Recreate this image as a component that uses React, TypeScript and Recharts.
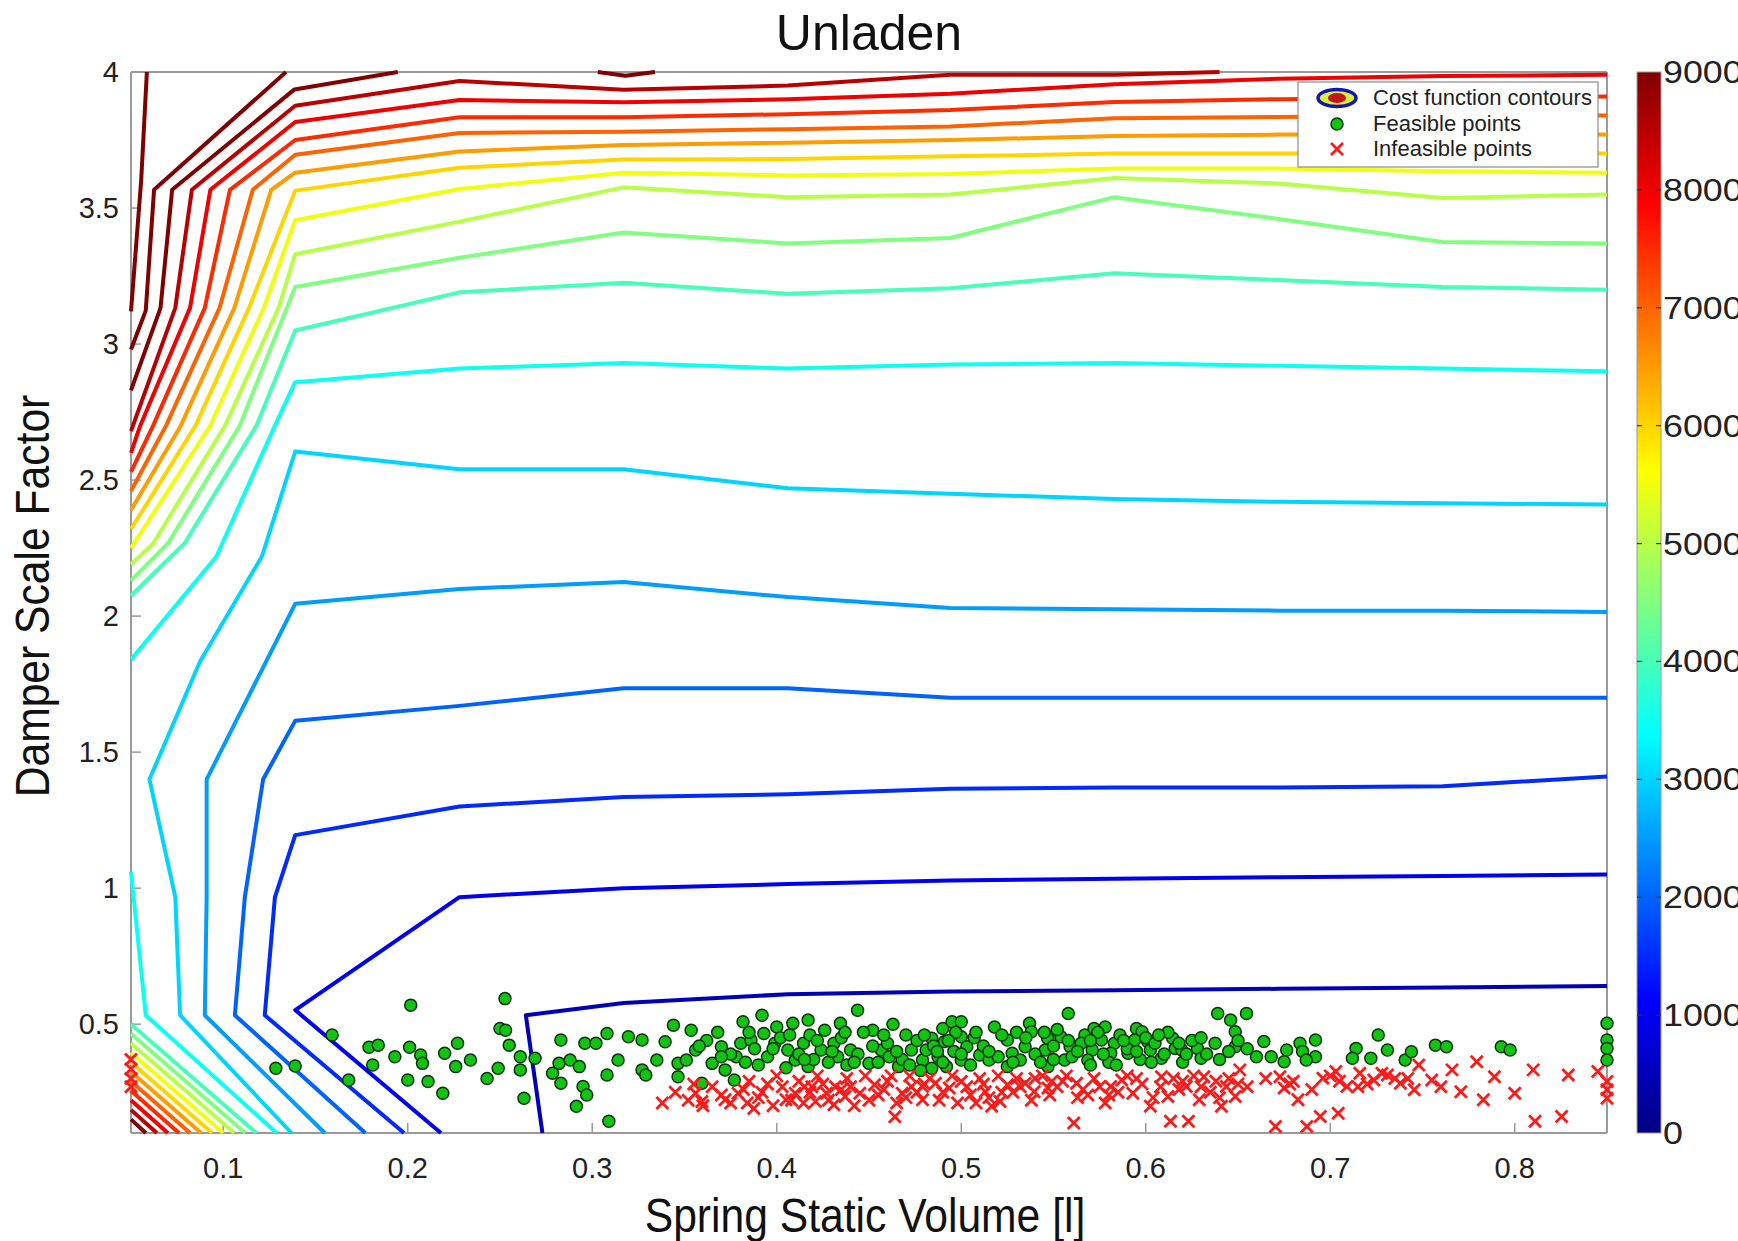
import React from "react";
import { ComposedChart, Scatter, XAxis, YAxis } from "recharts";

type Pt = [number, number];

const FONT = "'Liberation Sans', Arial, Helvetica, sans-serif";
const AXIS = "#9a9a9a";
const TXT = "#222";

const xTicks = [0.1, 0.2, 0.3, 0.4, 0.5, 0.6, 0.7, 0.8];
const yTicks = [0.5, 1, 1.5, 2, 2.5, 3, 3.5, 4];
const barTicks = [0, 1000, 2000, 3000, 4000, 5000, 6000, 7000, 8000, 9000];
const barMax = 9000;

// contour lines (x = spring volume, y = damper factor)
const c500: Pt[] = [[0.273, 0.1], [0.264, 0.533], [0.317, 0.578], [0.406, 0.61], [0.494, 0.62], [0.583, 0.625], [0.672, 0.63], [0.761, 0.635], [0.85, 0.64]];
const c1000: Pt[] = [[0.218, 0.1], [0.139, 0.552], [0.228, 0.967], [0.317, 1.0], [0.406, 1.015], [0.494, 1.028], [0.583, 1.035], [0.672, 1.04], [0.761, 1.045], [0.85, 1.05]];
const c1500: Pt[] = [[0.198, 0.1], [0.1225, 0.533], [0.128, 0.967], [0.139, 1.195], [0.228, 1.3], [0.317, 1.335], [0.406, 1.345], [0.494, 1.365], [0.583, 1.37], [0.672, 1.37], [0.761, 1.375], [0.85, 1.41]];
const c2000: Pt[] = [[0.177, 0.1], [0.1063, 0.533], [0.1117, 0.967], [0.1216, 1.4], [0.139, 1.615], [0.228, 1.67], [0.317, 1.735], [0.406, 1.735], [0.494, 1.7], [0.583, 1.7], [0.672, 1.7], [0.761, 1.7], [0.85, 1.7]];
const c2500: Pt[] = [[0.155, 0.1], [0.09, 0.533], [0.091, 0.967], [0.091, 1.4], [0.139, 2.045], [0.228, 2.1], [0.317, 2.125], [0.406, 2.07], [0.494, 2.03], [0.583, 2.025], [0.672, 2.02], [0.761, 2.02], [0.85, 2.015]];
const c3000: Pt[] = [[0.137, 0.1], [0.0766, 0.533], [0.074, 0.967], [0.06, 1.4], [0.0874, 1.833], [0.121, 2.22], [0.139, 2.605], [0.228, 2.54], [0.317, 2.54], [0.406, 2.47], [0.494, 2.45], [0.583, 2.43], [0.672, 2.42], [0.761, 2.415], [0.85, 2.41]];
const c3500: Pt[] = [[0.05, 1.84], [0.0964, 2.22], [0.128, 2.7], [0.139, 2.86], [0.228, 2.91], [0.317, 2.93], [0.406, 2.91], [0.494, 2.925], [0.583, 2.93], [0.672, 2.92], [0.761, 2.91], [0.85, 2.9]];
const c3500Corner: Pt[] = [[0.05, 1.06], [0.058, 0.533], [0.129, 0.1]];
const c4000: Pt[] = [[0.05, 2.075], [0.079, 2.267], [0.118, 2.7], [0.139, 3.05], [0.228, 3.19], [0.317, 3.225], [0.406, 3.185], [0.494, 3.205], [0.583, 3.26], [0.672, 3.235], [0.761, 3.21], [0.85, 3.2]];
const c4500: Pt[] = [[0.05, 2.13], [0.07, 2.267], [0.109, 2.7], [0.139, 3.21], [0.228, 3.317], [0.317, 3.41], [0.406, 3.37], [0.494, 3.39], [0.583, 3.54], [0.672, 3.46], [0.761, 3.375], [0.85, 3.37]];
const c5000: Pt[] = [[0.05, 2.19], [0.062, 2.267], [0.101, 2.7], [0.13, 3.133], [0.139, 3.33], [0.228, 3.45], [0.317, 3.576], [0.406, 3.54], [0.494, 3.55], [0.583, 3.61], [0.672, 3.59], [0.761, 3.537], [0.85, 3.55]];
const c5500: Pt[] = [[0.05, 2.25], [0.093, 2.7], [0.122, 3.133], [0.139, 3.455], [0.228, 3.57], [0.317, 3.63], [0.406, 3.62], [0.494, 3.625], [0.583, 3.645], [0.672, 3.645], [0.761, 3.635], [0.85, 3.63]];
const c6000: Pt[] = [[0.05, 2.32], [0.085, 2.7], [0.114, 3.133], [0.139, 3.564], [0.228, 3.648], [0.317, 3.678], [0.406, 3.68], [0.494, 3.69], [0.583, 3.7], [0.672, 3.7], [0.761, 3.7], [0.85, 3.7]];
const c6500: Pt[] = [[0.05, 2.39], [0.077, 2.7], [0.106, 3.133], [0.126, 3.567], [0.139, 3.63], [0.228, 3.708], [0.317, 3.732], [0.406, 3.74], [0.494, 3.75], [0.583, 3.765], [0.672, 3.77], [0.761, 3.77], [0.85, 3.77]];
const c7000: Pt[] = [[0.05, 2.46], [0.069, 2.7], [0.098, 3.133], [0.116, 3.567], [0.139, 3.696], [0.228, 3.776], [0.317, 3.78], [0.406, 3.79], [0.494, 3.8], [0.583, 3.83], [0.672, 3.835], [0.761, 3.84], [0.85, 3.84]];
const c7500: Pt[] = [[0.05, 2.53], [0.062, 2.7], [0.09, 3.133], [0.1036, 3.567], [0.139, 3.75], [0.228, 3.834], [0.317, 3.834], [0.406, 3.845], [0.494, 3.86], [0.583, 3.89], [0.672, 3.9], [0.761, 3.905], [0.85, 3.91]];
const c8000: Pt[] = [[0.05, 2.6], [0.055, 2.7], [0.082, 3.133], [0.093, 3.567], [0.139, 3.816], [0.228, 3.897], [0.317, 3.889], [0.406, 3.9], [0.494, 3.92], [0.583, 3.955], [0.672, 3.975], [0.761, 3.985], [0.85, 3.99]];
const c8500: Pt[] = [[0.05, 2.68], [0.074, 3.133], [0.083, 3.567], [0.139, 3.876], [0.228, 3.967], [0.317, 3.935], [0.406, 3.95], [0.494, 3.99], [0.583, 3.99], [0.64, 4.0]];
const c9000: Pt[] = [[0.05, 2.83], [0.066, 3.133], [0.0723, 3.567], [0.1386, 3.936], [0.1946, 4.0]];
const c9000Top: Pt[] = [[0.303, 4.0], [0.318, 3.986], [0.334, 4.0]];
const c9500: Pt[] = [[0.05, 2.98], [0.058, 3.123], [0.0625, 3.567], [0.134, 4.0]];
const c10000: Pt[] = [[0.05, 3.12], [0.0555, 3.6], [0.0586, 4.0]];

// fan of lines in the lower-left corner
const fan4000: Pt[] = [[0.05, 0.5], [0.118, 0.1]];
const fan4500: Pt[] = [[0.05, 0.465], [0.112, 0.1]];
const fan5000: Pt[] = [[0.05, 0.43], [0.106, 0.1]];
const fan5500: Pt[] = [[0.05, 0.395], [0.1, 0.1]];
const fan6000: Pt[] = [[0.05, 0.36], [0.094, 0.1]];
const fan6500: Pt[] = [[0.05, 0.325], [0.088, 0.1]];
const fan7000: Pt[] = [[0.05, 0.29], [0.082, 0.1]];
const fan7500: Pt[] = [[0.05, 0.255], [0.076, 0.1]];
const fan8000: Pt[] = [[0.05, 0.22], [0.07, 0.1]];
const fan8500: Pt[] = [[0.05, 0.185], [0.064, 0.1]];
const fan9000: Pt[] = [[0.05, 0.15], [0.058, 0.1]];

const contourLines: [number, Pt[]][] = [
  [500, c500], [1000, c1000], [1500, c1500], [2000, c2000], [2500, c2500], [3000, c3000],
  [3500, c3500], [3500, c3500Corner], [4000, c4000], [4500, c4500], [5000, c5000], [5500, c5500],
  [6000, c6000], [6500, c6500], [7000, c7000], [7500, c7500], [8000, c8000], [8500, c8500],
  [9000, c9000], [9000, c9000Top], [9500, c9500], [10000, c10000],
  [4000, fan4000], [4500, fan4500], [5000, fan5000], [5500, fan5500], [6000, fan6000], [6500, fan6500],
  [7000, fan7000], [7500, fan7500], [8000, fan8000], [8500, fan8500], [9000, fan9000],
];

const feasible: Pt[] = [
  [0.1285, 0.338], [0.139, 0.346], [0.159, 0.46], [0.168, 0.295], [0.179, 0.415], [0.184, 0.423], [0.181, 0.35], [0.193, 0.38],
  [0.2016, 0.57], [0.201, 0.415], [0.207, 0.387], [0.208, 0.356], [0.2, 0.295], [0.211, 0.289], [0.219, 0.246], [0.22, 0.393],
  [0.227, 0.43], [0.226, 0.344], [0.234, 0.368], [0.243, 0.3], [0.249, 0.338], [0.2527, 0.594], [0.25, 0.484], [0.253, 0.478],
  [0.255, 0.423], [0.261, 0.38], [0.261, 0.332], [0.269, 0.375], [0.263, 0.228], [0.2785, 0.32], [0.283, 0.442], [0.282, 0.356],
  [0.283, 0.283], [0.288, 0.368], [0.293, 0.344], [0.295, 0.271], [0.297, 0.24], [0.2914, 0.198], [0.296, 0.43], [0.302, 0.43],
  [0.308, 0.466], [0.308, 0.3135], [0.309, 0.143], [0.314, 0.368], [0.3196, 0.454], [0.327, 0.442], [0.327, 0.332], [0.329, 0.3135],
  [0.335, 0.368], [0.3395, 0.4355], [0.344, 0.4965], [0.3465, 0.356], [0.3465, 0.307], [0.3536, 0.478], [0.356, 0.405], [0.351, 0.368],
  [0.3594, 0.283], [0.365, 0.356], [0.37, 0.417], [0.372, 0.332], [0.377, 0.295], [0.3817, 0.509], [0.3805, 0.43], [0.378, 0.38],
  [0.386, 0.442], [0.392, 0.533], [0.393, 0.466], [0.4, 0.49], [0.399, 0.43], [0.406, 0.405], [0.4087, 0.503], [0.41, 0.368],
  [0.417, 0.515], [0.4145, 0.43], [0.417, 0.344], [0.424, 0.405], [0.426, 0.478], [0.431, 0.43], [0.4345, 0.503], [0.433, 0.38],
  [0.44, 0.405], [0.4438, 0.551], [0.452, 0.478], [0.45, 0.356], [0.4567, 0.405], [0.461, 0.38], [0.466, 0.344], [0.473, 0.405],
  [0.479, 0.368], [0.49, 0.484], [0.495, 0.509], [0.5, 0.509], [0.484, 0.448], [0.491, 0.436], [0.5, 0.454], [0.481, 0.405],
  [0.4874, 0.38], [0.496, 0.4], [0.503, 0.417], [0.484, 0.338], [0.492, 0.344], [0.5, 0.368], [0.51, 0.387], [0.515, 0.368],
  [0.525, 0.442], [0.5276, 0.393], [0.537, 0.503], [0.538, 0.472], [0.5346, 0.417], [0.532, 0.368], [0.525, 0.344], [0.5468, 0.448],
  [0.5455, 0.405], [0.547, 0.344], [0.554, 0.454], [0.558, 0.539], [0.559, 0.417], [0.556, 0.368], [0.567, 0.46], [0.572, 0.484],
  [0.578, 0.49], [0.576, 0.442], [0.571, 0.405], [0.5686, 0.368], [0.583, 0.43], [0.581, 0.393], [0.5904, 0.393], [0.595, 0.484],
  [0.598, 0.472], [0.594, 0.442], [0.601, 0.436], [0.6025, 0.405], [0.6085, 0.375], [0.6146, 0.448], [0.616, 0.411], [0.6195, 0.405],
  [0.628, 0.411], [0.63, 0.375], [0.6376, 0.43], [0.639, 0.539], [0.646, 0.515], [0.6546, 0.539], [0.6485, 0.472], [0.6485, 0.417],
  [0.664, 0.436], [0.668, 0.38], [0.6764, 0.405], [0.675, 0.362], [0.6836, 0.43], [0.685, 0.4], [0.692, 0.442], [0.692, 0.38],
  [0.687, 0.368], [0.714, 0.411], [0.712, 0.375], [0.726, 0.46], [0.731, 0.405], [0.722, 0.375], [0.7406, 0.368], [0.744, 0.399],
  [0.757, 0.423], [0.763, 0.417], [0.7927, 0.417], [0.7975, 0.405], [0.85, 0.503], [0.85, 0.442], [0.85, 0.411], [0.85, 0.368],
  [0.362, 0.44], [0.368, 0.47], [0.375, 0.39], [0.383, 0.36], [0.388, 0.41], [0.395, 0.38], [0.402, 0.45], [0.405, 0.34],
  [0.412, 0.39], [0.418, 0.46], [0.42, 0.37], [0.428, 0.36], [0.435, 0.45], [0.438, 0.35], [0.444, 0.39], [0.447, 0.47],
  [0.455, 0.36], [0.46, 0.43], [0.463, 0.5], [0.468, 0.37], [0.47, 0.46], [0.476, 0.44], [0.478, 0.33], [0.485, 0.42],
  [0.49, 0.36], [0.497, 0.47], [0.505, 0.35], [0.507, 0.45], [0.512, 0.42], [0.518, 0.49], [0.52, 0.38], [0.53, 0.47],
  [0.54, 0.39], [0.543, 0.36], [0.55, 0.42], [0.552, 0.48], [0.56, 0.38], [0.565, 0.43], [0.57, 0.35], [0.574, 0.47],
  [0.58, 0.36], [0.586, 0.46], [0.59, 0.41], [0.597, 0.37], [0.6, 0.45], [0.605, 0.43], [0.61, 0.39], [0.612, 0.47],
  [0.62, 0.36], [0.625, 0.44], [0.633, 0.39], [0.64, 0.37], [0.655, 0.41], [0.66, 0.38],
  [0.358, 0.42], [0.37, 0.38], [0.385, 0.47], [0.39, 0.35], [0.398, 0.41], [0.407, 0.46], [0.415, 0.37], [0.422, 0.44],
  [0.43, 0.4], [0.437, 0.47], [0.442, 0.36], [0.452, 0.42], [0.458, 0.46], [0.465, 0.4], [0.472, 0.35], [0.48, 0.46],
  [0.487, 0.4], [0.493, 0.44], [0.5, 0.39], [0.508, 0.47], [0.515, 0.4], [0.522, 0.46], [0.528, 0.36], [0.535, 0.45],
  [0.545, 0.47], [0.55, 0.37], [0.558, 0.44], [0.563, 0.4], [0.57, 0.44], [0.577, 0.39], [0.584, 0.35], [0.588, 0.44],
  [0.595, 0.4], [0.603, 0.36], [0.607, 0.46], [0.618, 0.43], [0.622, 0.39], [0.63, 0.45], [0.645, 0.4], [0.65, 0.44],
];

const infeasible: Pt[] = [
  [0.05, 0.37], [0.05, 0.335], [0.05, 0.3], [0.05, 0.27],
  [0.338, 0.21], [0.356, 0.246], [0.3594, 0.216], [0.372, 0.222], [0.379, 0.246], [0.384, 0.21], [0.3876, 0.19], [0.403, 0.27],
  [0.405, 0.222], [0.41, 0.246], [0.4145, 0.21], [0.419, 0.27], [0.421, 0.216], [0.427, 0.246], [0.4317, 0.27], [0.431, 0.204],
  [0.437, 0.234], [0.445, 0.246], [0.453, 0.277], [0.464, 0.16], [0.468, 0.246], [0.473, 0.27], [0.479, 0.222],
  [0.479, 0.271], [0.486, 0.283], [0.4935, 0.265], [0.5, 0.289], [0.508, 0.21], [0.5165, 0.198], [0.521, 0.216], [0.513, 0.252],
  [0.525, 0.277], [0.5346, 0.283], [0.5395, 0.252], [0.547, 0.265], [0.549, 0.289], [0.561, 0.137], [0.5625, 0.283], [0.5686, 0.24],
  [0.578, 0.21], [0.581, 0.271], [0.587, 0.295], [0.593, 0.246], [0.6025, 0.198], [0.6085, 0.307], [0.612, 0.234], [0.6134, 0.143],
  [0.6231, 0.143], [0.622, 0.271], [0.629, 0.222], [0.6315, 0.307], [0.641, 0.198], [0.6437, 0.271], [0.651, 0.332], [0.6485, 0.234],
  [0.6703, 0.124], [0.6727, 0.307], [0.675, 0.265], [0.6825, 0.222], [0.6873, 0.124], [0.6946, 0.161], [0.7043, 0.173], [0.696, 0.301],
  [0.703, 0.326], [0.709, 0.271], [0.716, 0.32], [0.7236, 0.295], [0.731, 0.313], [0.738, 0.283], [0.7455, 0.259], [0.748, 0.35],
  [0.755, 0.295], [0.766, 0.332], [0.7708, 0.252], [0.7794, 0.362], [0.783, 0.222], [0.789, 0.307], [0.8, 0.246], [0.81, 0.332],
  [0.811, 0.143], [0.8254, 0.161], [0.829, 0.313], [0.845, 0.326], [0.85, 0.289], [0.85, 0.228], [0.85, 0.259],
  [0.345, 0.25], [0.352, 0.22], [0.365, 0.27], [0.37, 0.24], [0.382, 0.26], [0.39, 0.23], [0.395, 0.28], [0.398, 0.2],
  [0.412, 0.29], [0.418, 0.25], [0.425, 0.28], [0.428, 0.22], [0.44, 0.27], [0.442, 0.2], [0.448, 0.31], [0.455, 0.24],
  [0.46, 0.29], [0.465, 0.21], [0.472, 0.31], [0.476, 0.25], [0.483, 0.3], [0.488, 0.22], [0.495, 0.31], [0.503, 0.27],
  [0.51, 0.3], [0.515, 0.23], [0.52, 0.31], [0.528, 0.25], [0.53, 0.3], [0.538, 0.22], [0.544, 0.31], [0.552, 0.27],
  [0.557, 0.31], [0.566, 0.26], [0.572, 0.3], [0.585, 0.25], [0.59, 0.31], [0.598, 0.28], [0.604, 0.23], [0.615, 0.3],
  [0.618, 0.26], [0.626, 0.31], [0.635, 0.25], [0.638, 0.29], [0.645, 0.3], [0.655, 0.27], [0.68, 0.29], [0.69, 0.26],
  [0.7, 0.31], [0.72, 0.28], [0.735, 0.3], [0.76, 0.27],
  [0.355, 0.28], [0.36, 0.2], [0.375, 0.21], [0.385, 0.29], [0.392, 0.25], [0.4, 0.31], [0.408, 0.22], [0.415, 0.27],
  [0.422, 0.31], [0.435, 0.26], [0.438, 0.3], [0.45, 0.22], [0.458, 0.26], [0.462, 0.31], [0.47, 0.23], [0.48, 0.28],
  [0.49, 0.25], [0.498, 0.21], [0.505, 0.24], [0.512, 0.28], [0.522, 0.25], [0.532, 0.27], [0.54, 0.3], [0.548, 0.24],
  [0.555, 0.29], [0.563, 0.23], [0.575, 0.27], [0.58, 0.24], [0.595, 0.3], [0.608, 0.27], [0.62, 0.29], [0.63, 0.27],
  [0.64, 0.23], [0.65, 0.28], [0.665, 0.3], [0.678, 0.28], [0.705, 0.29], [0.715, 0.27], [0.728, 0.32], [0.742, 0.3],
];

// MATLAB "jet" colour for a contour level
function jet(level: number) {
  const t = Math.min(1, level / barMax);
  const c = (v: number) => Math.round(255 * Math.max(0, Math.min(1, v)));
  const r = c(Math.min(4 * t - 1.5, -4 * t + 4.5));
  const g = c(Math.min(4 * t - 0.5, -4 * t + 3.5));
  const b = c(Math.min(4 * t + 0.5, -4 * t + 2.5));
  return `rgb(${r},${g},${b})`;
}

const toXY = (pts: Pt[]) => pts.map(([x, y]) => ({ x, y }));

const NoDot = () => <g />;

function GreenDot(props: any) {
  const { cx, cy } = props;
  return <circle cx={cx} cy={cy} r={6} fill="#12c412" stroke="#0a330a" strokeWidth={1.5} />;
}

function RedCross(props: any) {
  const { cx, cy } = props;
  const s = 6;
  return (
    <path
      d={`M${cx - s},${cy - s}L${cx + s},${cy + s}M${cx - s},${cy + s}L${cx + s},${cy - s}`}
      stroke="#ff1a1a"
      strokeWidth={2.8}
      fill="none"
    />
  );
}

function BottomTick(props: any) {
  const { x, y, payload } = props;
  return (
    <text x={x} y={y + 45} textAnchor="middle" fontSize={29} fill={TXT} fontFamily={FONT}>
      {payload.value}
    </text>
  );
}

function LeftTick(props: any) {
  const { x, y, payload } = props;
  return (
    <text x={x} y={y + 10} textAnchor="end" fontSize={29} fill={TXT} fontFamily={FONT}>
      {payload.value}
    </text>
  );
}

// colour bar, legend and titles drawn on top of the chart
function Overlay() {
  const top = 72;
  const bottom = 1133;
  const barX = 1637;
  const barW = 24;
  const yOf = (v: number) => bottom - (v / barMax) * (bottom - top);
  return (
    <svg width={1738} height={1241} style={{ position: "absolute", left: 0, top: 0, pointerEvents: "none" }}>
      <defs>
        <linearGradient id="jetbar" x1="0" y1="1" x2="0" y2="0">
          <stop offset="0%" stopColor="#000080" />
          <stop offset="12.5%" stopColor="#0000ff" />
          <stop offset="37.5%" stopColor="#00ffff" />
          <stop offset="62.5%" stopColor="#ffff00" />
          <stop offset="87.5%" stopColor="#ff0000" />
          <stop offset="100%" stopColor="#800000" />
        </linearGradient>
      </defs>
      <text x={869} y={50} textAnchor="middle" fontSize={50} fill="#111" fontFamily={FONT}>
        Unladen
      </text>
      <text
        transform={`translate(865,1232) scale(0.87,1)`}
        textAnchor="middle"
        fontSize={49}
        fill="#111"
        fontFamily={FONT}
      >
        Spring Static Volume [l]
      </text>
      <text
        transform={`translate(49,596) rotate(-90) scale(0.87,1)`}
        textAnchor="middle"
        fontSize={49}
        fill="#111"
        fontFamily={FONT}
      >
        Damper Scale Factor
      </text>

      <rect x={barX} y={top} width={barW} height={bottom - top} fill="url(#jetbar)" stroke="#9a9a9a" strokeWidth={1} />
      {barTicks.map((v) => (
        <g key={v}>
          {v > 0 && v < barMax && (
            <>
              <line x1={barX} x2={barX + 5} y1={yOf(v)} y2={yOf(v)} stroke="#333" strokeWidth={1.2} />
              <line x1={barX + barW - 5} x2={barX + barW} y1={yOf(v)} y2={yOf(v)} stroke="#333" strokeWidth={1.2} />
            </>
          )}
          <text
            transform={`translate(${barX + barW + 2},${yOf(v) + 11}) scale(1.12,1)`}
            fontSize={32}
            fill={TXT}
            fontFamily={FONT}
          >
            {v}
          </text>
        </g>
      ))}

      <g fontFamily={FONT} fontSize={22} fill={TXT}>
        <rect x={1298} y={82} width={300} height={85} fill="#fff" stroke="#8a8a8a" strokeWidth={1.2} />
        <ellipse cx={1337} cy={98} rx={19} ry={8.5} fill="#d9f03c" stroke="#1414b4" strokeWidth={3.5} />
        <ellipse cx={1337} cy={98} rx={9} ry={5} fill="#c41414" />
        <text x={1373} y={105}>Cost function contours</text>
        <GreenDot cx={1337} cy={124} />
        <text x={1373} y={131}>Feasible points</text>
        <RedCross cx={1337} cy={149} />
        <text x={1373} y={156}>Infeasible points</text>
      </g>
    </svg>
  );
}

export default function App() {
  return (
    <div
      style={{
        position: "absolute",
        left: 0,
        top: 0,
        width: 1738,
        height: 1241,
        overflow: "hidden",
        background: "#fff",
        fontFamily: FONT,
      }}
    >
      <ComposedChart width={1738} height={1241} margin={{ top: 71, right: 130, bottom: 48, left: 31 }}>
        <XAxis
          type="number"
          dataKey="x"
          domain={[0.05, 0.85]}
          ticks={xTicks}
          interval={0}
          height={60}
          tickSize={-10}
          tickMargin={10}
          axisLine={{ stroke: AXIS, strokeWidth: 2 }}
          tickLine={{ stroke: AXIS, strokeWidth: 1.5 }}
          tick={<BottomTick />}
        />
        <XAxis
          xAxisId="top"
          orientation="top"
          type="number"
          domain={[0.05, 0.85]}
          ticks={xTicks}
          interval={0}
          height={1}
          tickSize={-10}
          axisLine={{ stroke: AXIS, strokeWidth: 2 }}
          tickLine={{ stroke: AXIS, strokeWidth: 1.5 }}
          tick={false}
        />
        <YAxis
          type="number"
          dataKey="y"
          domain={[0.1, 4]}
          ticks={yTicks}
          interval={0}
          width={100}
          tickSize={-10}
          tickMargin={22}
          axisLine={{ stroke: AXIS, strokeWidth: 2 }}
          tickLine={{ stroke: AXIS, strokeWidth: 1.5 }}
          tick={<LeftTick />}
        />
        <YAxis
          yAxisId="right"
          orientation="right"
          type="number"
          domain={[0.1, 4]}
          ticks={yTicks}
          interval={0}
          width={1}
          tickSize={-10}
          axisLine={{ stroke: AXIS, strokeWidth: 2 }}
          tickLine={{ stroke: AXIS, strokeWidth: 1.5 }}
          tick={false}
        />

        {contourLines.map(([level, pts], i) => (
          <Scatter
            key={`c${i}`}
            data={toXY(pts)}
            fill={jet(level)}
            line={{ stroke: jet(level), strokeWidth: 4, strokeLinejoin: "round" }}
            lineType="joint"
            shape={NoDot}
            legendType="none"
            isAnimationActive={false}
          />
        ))}

        <Scatter data={toXY(feasible)} shape={GreenDot} fill="#12c412" isAnimationActive={false} />
        <Scatter data={toXY(infeasible)} shape={RedCross} fill="#ff1a1a" isAnimationActive={false} />
      </ComposedChart>
      <Overlay />
    </div>
  );
}
